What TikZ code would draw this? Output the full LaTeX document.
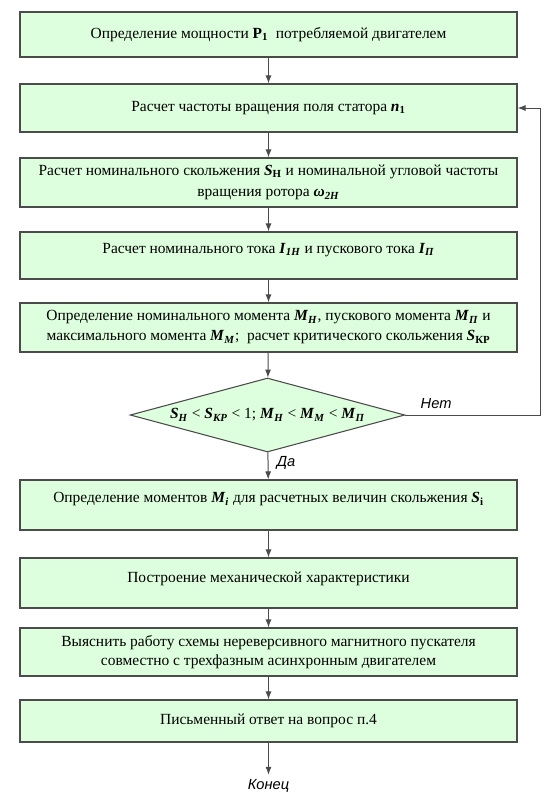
\documentclass[tikz,border=0pt]{standalone}
\usepackage{fontspec}
\setmainfont{Liberation Serif}
\newfontfamily\labelfont{Liberation Sans}
\usetikzlibrary{shapes.geometric,arrows.meta}

\newcommand{\qi}[2]{\textbf{\textit{#1}}\textsubscript{\textbf{\textit{#2}}}}
\newcommand{\qu}[2]{\textbf{\textit{#1}}\textsubscript{\textbf{#2}}}

\definecolor{boxfill}{RGB}{221,255,221}
\definecolor{boxline}{RGB}{75,75,75}

\begin{document}
\begin{tikzpicture}[x=0.75pt,y=-0.75pt]
	\tikzstyle{every node} = [font=\fontsize{11.6}{14}\selectfont]
	\tikzstyle{stepbox} = [rectangle, draw=boxline, fill=boxfill, line width=0.8pt, minimum width=372.75pt, align=center, inner sep=2pt]
	\tikzstyle{test} = [diamond, draw=boxline, fill=boxfill, line width=0.8pt, aspect=3.7, inner sep=0pt, minimum width=206pt, minimum height=55.5pt]
	\tikzstyle{raised} = [text depth=11pt]
	\tikzstyle{lab} = [font=\labelfont\itshape\fontsize{11}{13}\selectfont]
	\tikzstyle{arr} = [draw=boxline, line width=0.75pt, -{Latex[length=6pt,width=4.5pt]}]
	\useasboundingbox (0,0) rectangle (554,800);
	% steps
	\node[stepbox, minimum height=33.75pt] (b1) at (268.5,34.5) {Определение мощности \textbf{P\textsubscript{1}} \ потребляемой двигателем};
	\node[stepbox, minimum height=36pt] (b2) at (268.5,108) {Расчет частоты вращения поля статора \qu{n}{1}};
	\node[stepbox, minimum height=36.75pt] (b3) at (268.5,182.5) {Расчет номинального скольжения \qu{S}{Н} и номинальной угловой частоты\\[2pt] вращения ротора \qi{ω}{2H}};
	\node[stepbox, raised, minimum height=35.25pt] (b4) at (268.5,255.5) {Расчет номинального тока \qi{I}{1H} и пускового тока \qi{I}{П}};
	\node[stepbox, minimum height=36.75pt] (b5) at (268.5,327.5) {Определение номинального момента \qi{M}{H}, пускового момента \qi{M}{П} и\\[1pt] максимального момента \qi{M}{M}; \ расчет критического скольжения \qu{S}{КР}};
	\node[test] (dd) at (267.5,415) {\qi{S}{H} < \qi{S}{КР} < 1; \qi{M}{H} < \qi{M}{M} < \qi{M}{П}};
	\node[stepbox, raised, minimum height=37.5pt] (b6) at (268.5,505) {Определение моментов \qi{M}{i} для расчетных величин скольжения \qu{S}{i}};
	\node[stepbox, text depth=9pt, minimum height=37.5pt] (b7) at (268.5,583) {Построение механической характеристики};
	\node[stepbox, minimum height=36pt] (b8) at (268.5,652) {Выяснить работу схемы нереверсивного магнитного пускателя\\ совместно с трехфазным асинхронным двигателем};
	\node[stepbox, minimum height=31.5pt] (b9) at (268.5,721) {Письменный ответ на вопрос п.4};
	% labels
	\node[lab, anchor=west] (no) at (416,404) {Нет};
	\node[lab] (yes) at (286,463) {Да};
	\node[lab] (end) at (268.5,786) {Конец};
	\coordinate (loop) at (540,415);
	% connectors
	\draw[arr] (b1) -- (b2);
	\draw[arr] (b2) -- (b3);
	\draw[arr] (b3) -- (b4);
	\draw[arr] (b4) -- (b5);
	\draw[arr] (b5) -- (dd);
	\draw[arr] (dd) -- (b6);
	\draw[arr] (b6) -- (b7);
	\draw[arr] (b7) -- (b8);
	\draw[arr] (b8) -- (b9);
	\draw[arr] (b9) -- (end);
	\draw[arr] (dd.east) -- (loop) |- (b2.east);
\end{tikzpicture}
\end{document}
